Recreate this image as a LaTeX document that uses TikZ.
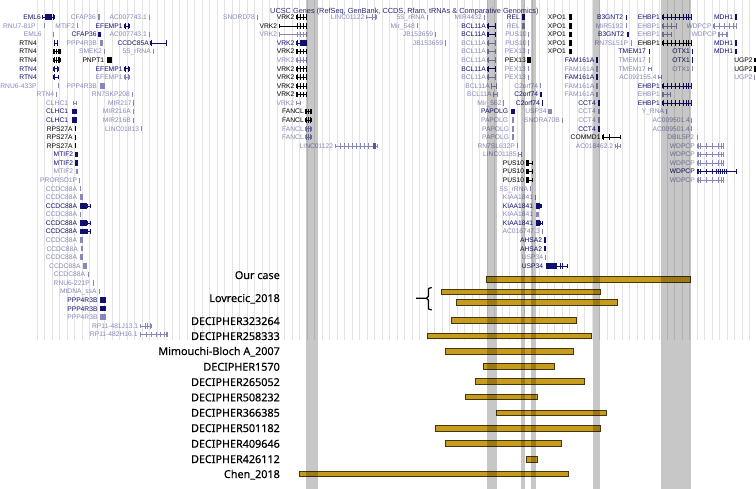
\documentclass[tikz,border=0pt]{standalone}
\usepackage{fontspec}
\setmainfont{Liberation Sans}
\newfontfamily\labfont[FakeBold=0.25]{Noto Sans}
\definecolor{dk}{RGB}{0,0,0}
\definecolor{nv}{RGB}{16,16,112}
\definecolor{lt}{RGB}{135,135,185}
\definecolor{gold}{RGB}{199,156,30}
\definecolor{goldline}{RGB}{70,55,10}
\definecolor{ttl}{RGB}{40,40,120}
\newcounter{gnode}
\newcommand\RY[1]{\pgfmathsetmacro\ry{17.3+8.57*#1}}
\newcommand\gLab[4]{\RY{#2}\stepcounter{gnode}\edef\gname{g\arabic{gnode}}\node[glab,text=#3] (\gname) at (#1,\ry+2.4) {#4};}
\newcommand\gTick[3]{\RY{#2}\fill[#3] ({#1-0.45},{\ry-2.6}) rectangle ({#1+0.45},{\ry+2.6});}
\newcommand\gBlk[4]{\RY{#3}\fill[#4] (#1,{\ry-2.8}) rectangle (#2,{\ry+2.8});}
\newcommand\gLine[4]{\RY{#3}\draw[#4,line width=0.5pt] (#1,\ry)--(#2,\ry);\fill[#4] ({#1-0.35},{\ry-2.2}) rectangle ({#1+0.35},{\ry+2.2});\fill[#4] ({#2-0.35},{\ry-2.2}) rectangle ({#2+0.35},{\ry+2.2});}
\newcommand\gEx[3]{\RY{#2}\fill[#3] ({#1-0.45},{\ry-2.8}) rectangle ({#1+0.45},{\ry+2.8});}
\newcommand\gExs[3]{\foreach \e in {#1}{\gEx{\e}{#2}{#3}}}
\newcommand\vrk[2]{\gLine{296}{306.5}{#1}{#2}\gExs{297,300.5,303,306}{#1}{#2}}
\newcommand\ehb[2]{\gLine{662}{691.5}{#1}{#2}\gExs{663,667,671,675,679,683,686.5,688.5,691}{#1}{#2}}
\newcommand\fcl[2]{\gLine{305.5}{311}{#1}{#2}\gExs{306,308,310.5}{#1}{#2}}
\newcommand\wdp[2]{\gLine{697}{723}{#1}{#2}\gExs{698,700,706,712,718,721,723}{#1}{#2}}
\begin{document}
\begin{tikzpicture}[x=1pt,y=-1pt,
  glab/.style={anchor=base east,inner sep=0pt,font=\fontsize{6.7}{8}\selectfont},
  blab/.style={anchor=base east,inner sep=0pt,font=\labfont\fontsize{10.8}{12}\selectfont},
  cnvbar/.style={fill=gold,draw=goldline,line width=0.8pt},
  band/.style={fill=black,opacity=0.22},
  gridl/.style={draw=black!11,line width=0.5pt}]
\useasboundingbox (0,0) rectangle (756,489);
\fill[white] (0,0) rectangle (756,489);
\foreach \i in {0,...,95}{\draw[gridl] ({37+7.5*\i},0) -- ({37+7.5*\i},340);}
\node[anchor=base west,inner sep=0pt,text=ttl,font=\fontsize{7.35}{8}\selectfont] (title) at (270,14) {UCSC Genes (RefSeq, GenBank, CCDS, Rfam, tRNAs \& Comparative Genomics)};
% row 0
\gLab{41}{0}{nv}{EML6}\gLine{42}{54}{0}{nv}\gBlk{44.5}{52}{0}{nv}\gEx{53.5}{0}{nv}
\gLab{96}{0}{lt}{CFAP36}\gBlk{97.5}{99.5}{0}{lt}
\gLab{147}{0}{lt}{AC007743.1}\gTick{149.5}{0}{lt}
\gLab{255}{0}{lt}{SNORD78}\gTick{257.5}{0}{lt}
\gLab{294.5}{0}{dk}{VRK2}\vrk{0}{dk}
\gLab{364.5}{0}{lt}{LINC01122}\gLine{366}{376}{0}{lt}\gExs{372,375}{0}{lt}
\gLab{425}{0}{lt}{5S\_rRNA}\gTick{427.5}{0}{lt}
\gLab{482}{0}{lt}{MIR4432}\gTick{484.5}{0}{lt}
\gLab{520}{0}{nv}{REL}\gBlk{521.7}{525}{0}{nv}
\gLab{566}{0}{dk}{XPO1}\gBlk{568.5}{572}{0}{dk}
\gLab{623.3}{0}{nv}{B3GNT2}\gTick{626.5}{0}{nv}
\gLab{660}{0}{nv}{EHBP1}\ehb{0}{nv}
\gLab{733.3}{0}{nv}{MDH1}\gBlk{734.7}{736.7}{0}{nv}
% row 1
\gLab{35.7}{1}{lt}{RNU7-81P}\gTick{44.5}{1}{lt}
\gLab{75}{1}{lt}{MTIF2}\gTick{77.5}{1}{lt}
\gLab{122.7}{1}{nv}{EFEMP1}\gLine{124.5}{129}{1}{nv}\gExs{125,128.5}{1}{nv}
\gLab{277.3}{1}{dk}{VRK2}\gLine{279}{306.5}{1}{dk}\gExs{297,300.5,303,306}{1}{dk}
\gLab{415}{1}{lt}{Mir\_548}\gTick{417.5}{1}{lt}
\gLab{486}{1}{nv}{BCL11A}\gLine{487.5}{495.5}{1}{nv}\gExs{488,495}{1}{nv}
\gLab{520}{1}{lt}{REL}\gBlk{521.7}{525}{1}{lt}
\gLab{566}{1}{dk}{XPO1}\gBlk{568.5}{572}{1}{dk}
\gLab{623.3}{1}{lt}{MIR5192}\gTick{626}{1}{lt}
\gLab{660}{1}{lt}{EHBP1}\gLine{662}{676.7}{1}{lt}\gExs{663,667,671,676}{1}{lt}
\gLab{711.7}{1}{lt}{WDPCP}\gLine{713}{736.5}{1}{lt}\gExs{714,719,724,729,733,736}{1}{lt}
% row 2
\gLab{41.7}{2}{lt}{EML6}\gTick{53.5}{2}{lt}
\gLab{96.7}{2}{nv}{CFAP36}\gBlk{97.8}{100.5}{2}{nv}
\gLab{147}{2}{lt}{AC007743.1}\gTick{149.5}{2}{lt}
\gLab{277.3}{2}{lt}{VRK2}\gLine{279}{306.5}{2}{lt}\gExs{297,300.5,303,306}{2}{lt}
\gLab{433.3}{2}{lt}{JB153659}\gTick{435.5}{2}{lt}
\gLab{486}{2}{nv}{BCL11A}\gLine{487.5}{495.5}{2}{nv}\gExs{488,495}{2}{nv}
\gLab{526.7}{2}{lt}{PUS10}\gTick{528.5}{2}{lt}
\gLab{566}{2}{dk}{XPO1}\gBlk{568.5}{572}{2}{dk}
\gLab{624.3}{2}{nv}{B3GNT2}\gBlk{627.3}{628.7}{2}{nv}
\gLab{660}{2}{lt}{EHBP1}\gLine{662}{671.7}{2}{lt}\gExs{663,667,671}{2}{lt}
\gLab{716.7}{2}{lt}{WDPCP}\gLine{718}{727}{2}{lt}\gExs{719,722,726}{2}{lt}
% row 3
\gLab{37}{3}{dk}{RTN4}\gLine{54}{57.5}{3}{nv}\gExs{54.5,57}{3}{nv}
\gLab{97}{3}{lt}{PPP4R3B}\gBlk{100}{102.5}{3}{lt}
\gLab{149}{3}{nv}{CCDC85A}\gLine{150.5}{166.5}{3}{nv}\gExs{151,166}{3}{nv}
\gLab{294.5}{3}{nv}{VRK2}\gLine{296}{306.5}{3}{nv}\gBlk{300}{306.5}{3}{nv}\gEx{297}{3}{nv}
\gLab{443.3}{3}{lt}{JB153659}\gTick{445.5}{3}{lt}
\gLab{486}{3}{lt}{BCL11A}\gLine{487.5}{495.5}{3}{lt}\gExs{488,495}{3}{lt}
\gLab{526.7}{3}{lt}{PUS10}\gTick{528.5}{3}{lt}
\gLab{566}{3}{dk}{XPO1}\gBlk{568.5}{572}{3}{dk}
\gLab{628.3}{3}{lt}{RN7SL51P}\gTick{631}{3}{lt}
\gLab{660}{3}{dk}{EHBP1}\ehb{3}{dk}
\gLab{733.3}{3}{nv}{MDH1}\gBlk{734.7}{736.7}{3}{nv}
% row 4
\gLab{37}{4}{dk}{RTN4}\gLine{53.5}{60}{4}{dk}\gExs{54,56,58,59.7}{4}{dk}
\gLab{102}{4}{lt}{SMEK2}\gTick{104.5}{4}{lt}
\gLab{151}{4}{lt}{5S\_rRNA}\gTick{153}{4}{lt}
\gLab{294.5}{4}{dk}{VRK2}\vrk{4}{dk}
\gLab{486}{4}{lt}{BCL11A}\gLine{487.5}{495.5}{4}{lt}\gExs{488,495}{4}{lt}
\gLab{526}{4}{lt}{PEX13}\gTick{528.5}{4}{lt}
\gLab{566}{4}{dk}{XPO1}\gBlk{568.5}{572}{4}{dk}
\gLab{646}{4}{nv}{TMEM17}\gBlk{648.7}{650}{4}{nv}
\gLab{690}{4}{nv}{OTX1}\gBlk{691.7}{693.3}{4}{nv}
\gLab{733.3}{4}{nv}{MDH1}\gBlk{734.7}{736.7}{4}{nv}
% row 5
\gLab{37}{5}{dk}{RTN4}\gLine{53.5}{60}{5}{dk}\gExs{54,56,58,59.7}{5}{dk}
\gLab{104.3}{5}{dk}{PNPT1}\gBlk{107}{112}{5}{dk}
\gLab{294.5}{5}{lt}{VRK2}\vrk{5}{lt}
\gLab{486}{5}{lt}{BCL11A}\gLine{487.5}{495.5}{5}{lt}\gExs{488,495}{5}{lt}
\gLab{526}{5}{dk}{PEX13}\gBlk{526.7}{530.7}{5}{dk}
\gLab{594.5}{5}{nv}{FAM161A}\gBlk{596}{598}{5}{nv}
\gLab{646}{5}{lt}{TMEM17}\gBlk{648.7}{650}{5}{lt}
\gLab{690}{5}{nv}{OTX1}\gBlk{691.7}{693.3}{5}{nv}
\gLab{752.7}{5}{dk}{UGP2}\gLine{754}{755.6}{5}{dk}
% row 6
\gLab{37}{6}{nv}{RTN4}\gLine{53.5}{58}{6}{nv}\gExs{54,57.5}{6}{nv}
\gLab{122.7}{6}{nv}{EFEMP1}\gLine{124.5}{129}{6}{nv}\gExs{125,128.5}{6}{nv}
\gLab{294.5}{6}{dk}{VRK2}\vrk{6}{dk}
\gLab{486}{6}{nv}{BCL11A}\gLine{487.5}{495.5}{6}{nv}\gExs{488,495}{6}{nv}
\gLab{526}{6}{lt}{PEX13}\gTick{528.5}{6}{lt}
\gLab{594.5}{6}{lt}{FAM161A}\gBlk{596}{598}{6}{lt}
\gLab{646}{6}{lt}{TMEM17}\gLine{648.5}{651}{6}{lt}
\gLab{690}{6}{lt}{OTX1}\gTick{692}{6}{lt}
\gLab{752.7}{6}{dk}{UGP2}\gBlk{754}{755.5}{6}{dk}
% row 7
\gLab{37}{7}{nv}{RTN4}\gLine{53.5}{58}{7}{nv}\gEx{54}{7}{nv}
\gLab{122.7}{7}{lt}{EFEMP1}\gLine{124.5}{129}{7}{lt}\gExs{125,128.5}{7}{lt}
\gLab{294.5}{7}{dk}{VRK2}\vrk{7}{dk}
\gLab{486}{7}{lt}{BCL11A}\gLine{487.5}{495.5}{7}{lt}\gExs{488,495}{7}{lt}
\gLab{526}{7}{lt}{PEX13}\gTick{528.5}{7}{lt}
\gLab{594.5}{7}{nv}{FAM161A}\gBlk{596}{598}{7}{nv}
\gLab{656.7}{7}{lt}{AC092155.4}\gLine{658.3}{661.7}{7}{lt}
\gLab{752.7}{7}{lt}{UGP2}\gTick{754.5}{7}{lt}
% row 8
\gLab{36.7}{8}{lt}{RNU6-433P}\gTick{58}{8}{lt}
\gLab{97}{8}{lt}{PPP4R3B}\gBlk{100}{105}{8}{lt}
\gLab{294.5}{8}{dk}{VRK2}\vrk{8}{dk}
\gLab{490}{8}{lt}{BCL11A}\gLine{491}{496.5}{8}{lt}\gExs{491.5,496}{8}{lt}
\gLab{538.3}{8}{lt}{C2orf74}\gTick{540.5}{8}{lt}
\gLab{594.5}{8}{lt}{FAM161A}\gBlk{596}{598}{8}{lt}
\gLab{660}{8}{nv}{EHBP1}\ehb{8}{nv}
% row 9
\gLab{54.3}{9}{lt}{RTN4}\gTick{56.5}{9}{lt}
\gLab{130}{9}{lt}{RN7SKP208}\gTick{132.5}{9}{lt}
\gLab{294.5}{9}{dk}{VRK2}\vrk{9}{dk}
\gLab{491.7}{9}{lt}{BCL11A}\gLine{493}{497.5}{9}{lt}
\gLab{538.3}{9}{nv}{C2orf74}\gBlk{540}{541.5}{9}{nv}
\gLab{594.5}{9}{lt}{FAM161A}\gBlk{596}{598}{9}{lt}
\gLab{660}{9}{lt}{EHBP1}\gLine{662}{670}{9}{lt}\gExs{663,667,670}{9}{lt}
% row 10
\gLab{68.3}{10}{lt}{CLHC1}\gLine{73}{76}{10}{lt}
\gLab{131.7}{10}{lt}{MIR217}\gTick{133.5}{10}{lt}
\gLab{294.3}{10}{lt}{VRK2}\gLine{296}{300}{10}{lt}
\gLab{501.7}{10}{lt}{Mir\_562}\gTick{503.7}{10}{lt}
\gLab{540}{10}{nv}{C2orf74}\gBlk{541.7}{543}{10}{nv}
\gLab{596}{10}{nv}{CCT4}\gBlk{598.3}{600.3}{10}{nv}
\gLab{660}{10}{nv}{EHBP1}\ehb{10}{nv}
% row 11
\gLab{68.3}{11}{nv}{CLHC1}\gBlk{72}{74.5}{11}{nv}\gBlk{75}{76.5}{11}{nv}
\gLab{131}{11}{lt}{MIR216A}\gTick{133.5}{11}{lt}
\gLab{304}{11}{dk}{FANCL}\fcl{11}{dk}
\gLab{508.3}{11}{nv}{PAPOLG}\gBlk{511}{515}{11}{nv}
\gLab{546.7}{11}{lt}{USP34}\gBlk{548.3}{551.7}{11}{lt}
\gLab{596}{11}{lt}{CCT4}\gBlk{598.3}{600.3}{11}{lt}
\gLab{664.3}{11}{lt}{Y\_RNA}\gTick{666.3}{11}{lt}
% row 12
\gLab{68.3}{12}{nv}{CLHC1}\gBlk{72}{74.5}{12}{nv}\gBlk{75}{76.5}{12}{nv}
\gLab{131}{12}{lt}{MIR216B}\gTick{133.5}{12}{lt}
\gLab{304}{12}{dk}{FANCL}\fcl{12}{dk}
\gLab{508.3}{12}{lt}{PAPOLG}\gBlk{511.5}{514}{12}{lt}
\gLab{560}{12}{lt}{SNORA70B}\gTick{562}{12}{lt}
\gLab{596}{12}{lt}{CCT4}\gBlk{598.3}{600}{12}{lt}
\gLab{690}{12}{lt}{AC009501.4}\gTick{691.7}{12}{lt}
% row 13
\gLab{72.7}{13}{dk}{RPS27A}\gTick{75.3}{13}{dk}
\gLab{139.3}{13}{lt}{LINC01813}\gTick{141.7}{13}{lt}
\gLab{304}{13}{lt}{FANCL}\fcl{13}{lt}
\gLab{509.3}{13}{lt}{PAPOLG}\gBlk{512}{514}{13}{lt}
\gLab{596}{13}{nv}{CCT4}\gBlk{598.3}{600.3}{13}{nv}
\gLab{690}{13}{lt}{AC009501.4}\gTick{691.7}{13}{lt}
% row 14
\gLab{72.7}{14}{dk}{RPS27A}\gTick{75.3}{14}{dk}
\gLab{304}{14}{lt}{FANCL}\fcl{14}{lt}
\gLab{509.3}{14}{lt}{PAPOLG}\gBlk{512}{513.5}{14}{lt}
\gLab{600.7}{14}{dk}{COMMD1}\gLine{602.7}{620.7}{14}{dk}\gExs{603,609}{14}{dk}
\gLab{694.3}{14}{lt}{DBIL5P2}\gTick{697.5}{14}{lt}
% row 15
\gLab{72.7}{15}{dk}{RPS27A}\gTick{75.3}{15}{dk}
\gLab{333.3}{15}{lt}{LINC01122}\gLine{335.7}{377.7}{15}{lt}\gExs{340,344,348,352,356,360,364,368}{15}{lt}\gBlk{372.5}{376}{15}{lt!60!nv}
\gLab{515}{15}{lt}{RN7SL632P}\gTick{517.5}{15}{lt}
\gLab{613.3}{15}{lt}{AC018462.2}\gLine{615.7}{620}{15}{lt}\gEx{617.5}{15}{lt}
\gLab{695}{15}{lt}{WDPCP}\wdp{15}{lt}
% row 16
\gLab{73.3}{16}{nv}{MTIF2}\gBlk{75}{78}{16}{nv}
\gLab{516.7}{16}{lt}{LINC01185}\gLine{518.3}{521}{16}{lt}
\gLab{695}{16}{lt}{WDPCP}\wdp{16}{lt}
% row 17
\gLab{73.3}{17}{nv}{MTIF2}\gBlk{75}{78}{17}{nv}
\gLab{524.3}{17}{dk}{PUS10}\gBlk{525.7}{528.5}{17}{dk}\gLine{528.5}{532}{17}{dk}
\gLab{695}{17}{lt}{WDPCP}\wdp{17}{lt}
% row 18
\gLab{73.3}{18}{lt}{MTIF2}\gBlk{76}{78}{18}{lt}
\gLab{524.3}{18}{dk}{PUS10}\gBlk{525.7}{528.5}{18}{dk}\gLine{528.5}{532}{18}{dk}
\gLab{695}{18}{nv}{WDPCP}\gLine{697}{736}{18}{nv}\gExs{698,700,706,712,716,718,720,722,724,726}{18}{nv}
% row 19
\gLab{77.3}{19}{lt}{PRORSD1P}\gTick{79.5}{19}{lt}
\gLab{524.3}{19}{dk}{PUS10}\gBlk{525.7}{528.5}{19}{dk}\gLine{528.5}{532}{19}{dk}
\gLab{695}{19}{lt}{WDPCP}\wdp{19}{lt}
% rows 20-37
\gLab{77.3}{20}{lt}{CCDC88A}\gTick{80.3}{20}{lt}
\gLab{528.3}{20}{lt}{5S\_rRNA}\gTick{530.5}{20}{lt}
\gLab{77.3}{21}{lt}{CCDC88A}\gBlk{80}{83.3}{21}{lt}
\gLab{533.3}{21}{lt}{KIAA1841}\gTick{535.5}{21}{lt}
\gLab{77.3}{22}{nv}{CCDC88A}\gBlk{80}{87.3}{22}{nv}\gLine{87}{90}{22}{nv}
\gLab{533.3}{22}{nv}{KIAA1841}\gBlk{536}{540}{22}{nv}\gLine{540}{541.7}{22}{nv}
\gLab{77.3}{23}{lt}{CCDC88A}\gTick{80.3}{23}{lt}
\gLab{533.3}{23}{lt}{KIAA1841}\gBlk{536}{538.7}{23}{lt}
\gLab{77.3}{24}{nv}{CCDC88A}\gBlk{80}{87.3}{24}{nv}\gLine{87}{90}{24}{nv}
\gLab{533.3}{24}{nv}{KIAA1841}\gBlk{536}{540}{24}{nv}\gLine{540}{542}{24}{nv}
\gLab{77.3}{25}{nv}{CCDC88A}\gBlk{80}{87.3}{25}{nv}\gLine{87}{90}{25}{nv}
\gLab{540}{25}{lt}{AC016747.3}\gTick{542.5}{25}{lt}
\gLab{77.3}{26}{lt}{CCDC88A}\gBlk{80}{83.3}{26}{lt}
\gLab{542.3}{26}{nv}{AHSA2}\gBlk{544}{545.5}{26}{nv}
\gLab{78}{27}{lt}{CCDC88A}\gBlk{80.5}{83.3}{27}{lt}
\gLab{542.3}{27}{nv}{AHSA2}\gBlk{544}{545.5}{27}{nv}
\gLab{77.3}{28}{lt}{CCDC88A}\gBlk{80}{82.5}{28}{lt}
\gLab{543.3}{28}{lt}{USP34}\gTick{545.3}{28}{lt}
\gLab{80.7}{29}{lt}{CCDC88A}\gBlk{83}{87}{29}{lt}
\gLab{543.3}{29}{nv}{USP34}\gBlk{545.7}{556.7}{29}{nv}\gLine{556}{567.3}{29}{nv}\gExs{560,562.5}{29}{nv}
\gLab{85.3}{30}{lt}{CCDC88A}\gTick{88}{30}{lt}
\gLab{90}{31}{lt}{RNU6-221P}\gTick{93}{31}{lt}
\gLab{96.7}{32}{lt}{MtDNA\_ssA}\gTick{99}{32}{lt}
\gLab{97.7}{33}{nv}{PPP4R3B}\gBlk{99.5}{106}{33}{nv}
\gLab{97.7}{34}{nv}{PPP4R3B}\gBlk{99.5}{106}{34}{nv}
\gLab{97.7}{35}{lt}{PPP4R3B}\gBlk{99.5}{105.5}{35}{lt}
\gLab{138.3}{36}{lt}{RP11-481J13.1}\gLine{140.5}{151}{36}{lt}\gExs{145,147,150.5}{36}{lt}
\gLab{137.7}{37}{lt}{RP11-482H16.1}\gLine{140}{167}{37}{lt}\gExs{146,151,156,160,164,166.5}{37}{lt}
% case labels
\node[blab] (lour) at (280,279) {Our case};
\node[blab] (llov) at (280,302) {Lovrecic\_2018};
\node[blab] (l1) at (280,325) {DECIPHER323264};
\node[blab] (l2) at (280,340) {DECIPHER258333};
\node[blab] (l3) at (280,355) {Mimouchi-Bloch A\_2007};
\node[blab] (l4) at (280,370.7) {DECIPHER1570};
\node[blab] (l5) at (280,386) {DECIPHER265052};
\node[blab] (l6) at (280,401.3) {DECIPHER508232};
\node[blab] (l7) at (280,416.7) {DECIPHER366385};
\node[blab] (l8) at (280,432) {DECIPHER501182};
\node[blab] (l9) at (280,447.7) {DECIPHER409646};
\node[blab] (l10) at (280,463) {DECIPHER426112};
\node[blab] (l11) at (280,478) {Chen\_2018};
% bars
\path[cnvbar] (486,276.7) rectangle (690.7,282.3);
\path[cnvbar] (441,289.3) rectangle (600,294.7);
\path[cnvbar] (456.7,299.3) rectangle (617.7,305);
\path[cnvbar] (451,317.7) rectangle (576,323.3);
\path[cnvbar] (427.3,333) rectangle (591.7,338.7);
\path[cnvbar] (445,348) rectangle (573.7,354);
\path[cnvbar] (483.3,363.3) rectangle (554,369);
\path[cnvbar] (475,378.3) rectangle (584.7,384);
\path[cnvbar] (465.7,394) rectangle (537.3,399.7);
\path[cnvbar] (496.7,410) rectangle (606,415.7);
\path[cnvbar] (435.7,425.7) rectangle (600,431.3);
\path[cnvbar] (445,440.7) rectangle (561.3,446.7);
\path[cnvbar] (526,456) rectangle (537.7,462.3);
\path[cnvbar] (299,471) rectangle (568.7,476.7);
% bracket
\draw[line width=1.2pt,line join=round] (431.7,287.5) -- (428.5,288.5) -- (428.5,296.3) -- (426.5,298.3) -- (416,298.3);
\draw[line width=1.2pt,line join=round] (426.5,298.3) -- (428.5,300.3) -- (428.5,309) -- (431.7,310);
% highlighted bands
\fill[band] (306,0) rectangle (317.5,489);
\fill[band] (486.7,0) rectangle (497,489);
\fill[band] (521,0) rectangle (525,489);
\fill[band] (531,0) rectangle (536,489);
\fill[band] (593,0) rectangle (599.5,489);
\fill[band] (660.7,0) rectangle (691,489);
\end{tikzpicture}
\end{document}
